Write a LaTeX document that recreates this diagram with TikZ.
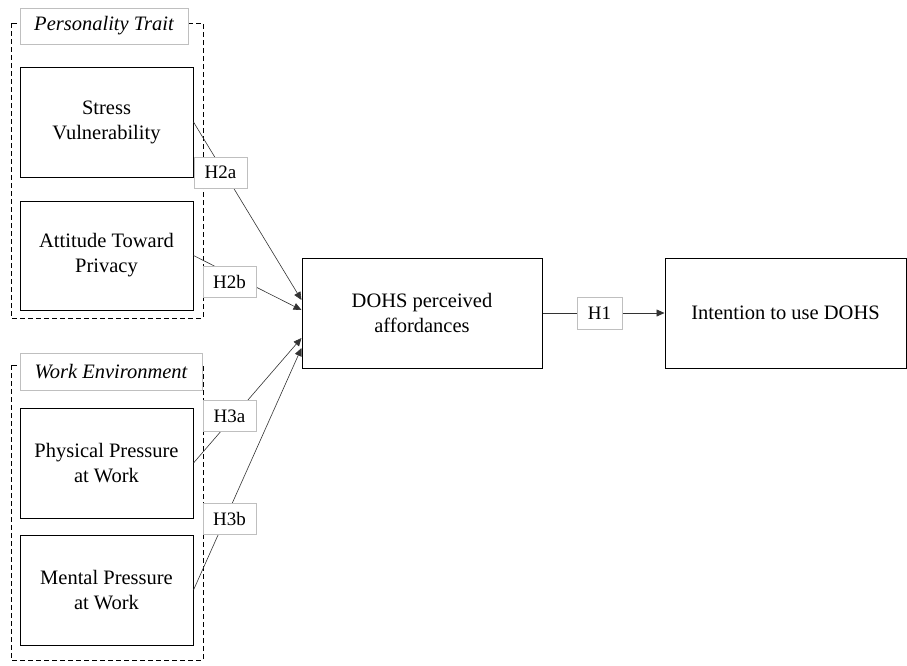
\documentclass[tikz,border=0pt]{standalone}
\usepackage{fontspec}
\setmainfont{Liberation Serif}
\usetikzlibrary{arrows.meta}

\begin{document}
\begin{tikzpicture}[x=1pt,y=-1pt,
    box/.style={draw,line width=1pt,align=center,inner sep=2pt,
      font=\fontsize{20.5}{25}\selectfont},
    grp/.style={draw,dash pattern=on 5pt off 3pt,line width=0.9pt},
    grplabel/.style={draw=black!25,fill=white,line width=0.6pt,
      font=\fontsize{20.5}{25}\selectfont\itshape},
    hyp/.style={draw=black!25,fill=white,line width=0.6pt,minimum width=53pt,
      minimum height=31pt,inner sep=1pt,font=\fontsize{19}{22}\selectfont},
    arr/.style={black!80,line width=0.6pt,-{Triangle[length=8pt,width=7pt]}}]
  \useasboundingbox (0,0) rectangle (907,665);
  % groups
  \draw[grp] (11,23) rectangle (203,318);
  \draw[grp] (11,365) rectangle (203,660);
  \node[grplabel,minimum width=168pt,minimum height=36pt] (pt) at (104,26) {Personality Trait};
  \node[grplabel,minimum width=182pt,minimum height=37pt] (we) at (111,371.5) {Work Environment};
  % constructs
  \node[box,minimum width=173pt,minimum height=110pt] (sv) at (106.5,122) {Stress\\Vulnerability};
  \node[box,minimum width=173pt,minimum height=109pt] (atp) at (106.5,255.5) {Attitude Toward\\Privacy};
  \node[box,minimum width=173pt,minimum height=110pt] (ppw) at (106.5,463) {Physical Pressure\\at Work};
  \node[box,minimum width=173pt,minimum height=110pt] (mpw) at (106.5,590) {Mental Pressure\\at Work};
  \node[box,minimum width=240pt,minimum height=110pt] (dohs) at (422,313) {DOHS perceived\\affordances};
  \node[box,minimum width=241pt,minimum height=110pt] (int) at (785.5,313) {Intention to use DOHS};
  % paths
  \draw[arr] (sv.east) -- ([yshift=13pt]dohs.west);
  \draw[arr] (atp.east) -- ([yshift=3pt]dohs.west);
  \draw[arr] (ppw.east) -- ([yshift=-25pt]dohs.west);
  \draw[arr] (mpw.east) -- ([yshift=-35pt]dohs.west);
  \draw[arr] (dohs.east) -- (int.west);
  \node[hyp] (h2a) at (220.5,172.5) {H2a};
  \node[hyp] (h2b) at (229.5,281.5) {H2b};
  \node[hyp] (h3a) at (229.5,416) {H3a};
  \node[hyp] (h3b) at (229.5,519) {H3b};
  \node[hyp,minimum width=45pt,minimum height=32pt] (h1) at (599.5,313) {H1};
\end{tikzpicture}
\end{document}
